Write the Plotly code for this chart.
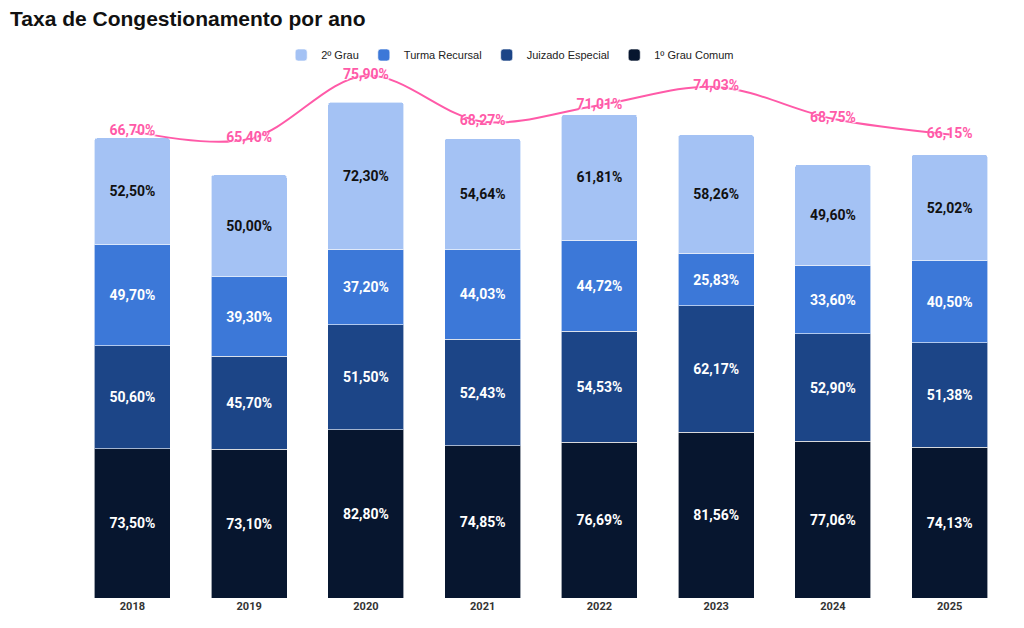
import plotly.graph_objects as go

anos = ['2018', '2019', '2020', '2021', '2022', '2023', '2024', '2025']

# stacked series (bottom to top)
grau1_comum = [73.50, 73.10, 82.80, 74.85, 76.69, 81.56, 77.06, 74.13]
juizado_especial = [50.60, 45.70, 51.50, 52.43, 54.53, 62.17, 52.90, 51.38]
turma_recursal = [49.70, 39.30, 37.20, 44.03, 44.72, 25.83, 33.60, 40.50]
grau2 = [52.50, 50.00, 72.30, 54.64, 61.81, 58.26, 49.60, 52.02]

# overall rate (line)
taxa_total = [66.70, 65.40, 75.90, 68.27, 71.01, 74.03, 68.75, 66.15]

series = [
    ('1º Grau Comum', grau1_comum, '#07162f', 'white'),
    ('Juizado Especial', juizado_especial, '#1c4587', 'white'),
    ('Turma Recursal', turma_recursal, '#3c78d8', 'white'),
    ('2º Grau', grau2, '#a4c2f4', '#111111'),
]

fig = go.Figure()

for name, vals, color, txtcolor in series:
    fig.add_trace(go.Bar(
        x=anos, y=vals, name=name,
        marker=dict(color=color, line=dict(color='rgba(255,255,255,0.6)', width=1)),
        texttemplate='%{y:.2f}%',
        textposition='inside',
        insidetextanchor='middle',
        textangle=0,
        textfont=dict(family='Roboto', size=14, color=txtcolor, weight='bold'),
        hoverinfo='skip',
    ))

fig.add_trace(go.Scatter(
    x=anos, y=taxa_total, yaxis='y2',
    mode='lines+text',
    line=dict(color='#ff5aa8', width=2, shape='spline', smoothing=1.0),
    texttemplate='%{y:.2f}%',
    textposition='middle center',
    textfont=dict(family='Roboto', size=14, color='#ff5aa8', weight='bold',
                  shadow='1px 1px 1px white'),
    showlegend=False,
    cliponaxis=False,
    hoverinfo='skip',
))

fig.update_layout(
    width=1008, height=612,
    barmode='stack',
    bargap=0.35,
    barcornerradius=3,
    separators=',.',
    plot_bgcolor='white',
    paper_bgcolor='white',
    margin=dict(l=66, r=8, t=60, b=22),
    font=dict(family='Roboto', color='#222222'),
    title=dict(text='<b>Taxa de Congestionamento por ano</b>', x=0.002, xanchor='left',
               y=0.982, yanchor='middle',
               font=dict(family='Liberation Sans', size=21, color='#111111')),
    legend=dict(orientation='h', traceorder='reversed', x=0.467, xanchor='center',
                y=1.0245, yanchor='middle', bgcolor='rgba(0,0,0,0)',
                font=dict(family='Liberation Sans', size=11, color='#222222'),
                itemwidth=30),
    xaxis=dict(showgrid=False, showline=False, ticks='',
               tickfont=dict(family='Roboto', size=11, color='#333333', weight='bold')),
    yaxis=dict(range=[0, 260.7], visible=False, showgrid=False),
    yaxis2=dict(range=[-10.72, 77.17], overlaying='y', visible=False, showgrid=False),
)

fig.write_html('out.html')
